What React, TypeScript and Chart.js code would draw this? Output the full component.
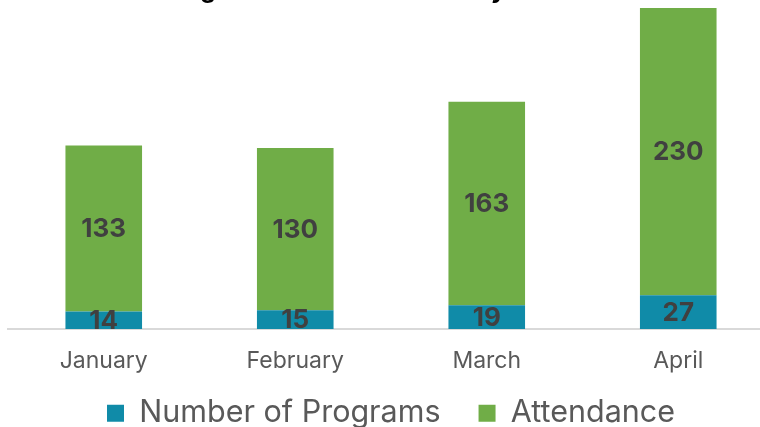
import React, { useEffect, useRef } from "react";
import { Chart, registerables } from "chart.js";

Chart.register(...registerables);

const titleText = "Programs and Attendance by Month";
const months = ["January", "February", "March", "April"];
const programs = [14, 15, 19, 27];
const attendance = [133, 130, 163, 230];
const yMax = 263.4;

const FONT = "Inter, 'Open Sans', sans-serif";

const titlePlugin = {
  id: "cutTitle",
  afterDraw(chart: any) {
    const ctx = chart.ctx;
    ctx.save();
    ctx.font = `bold 24px ${FONT}`;
    // fit font so that the g (in "Programs") and y (in "by") descenders are ~291px apart
    const gPos = ctx.measureText("Pro").width + ctx.measureText("g").width / 2;
    const yPos = ctx.measureText("Programs and Attendance b").width + ctx.measureText("y").width / 2;
    const size = (24 * 291) / (yPos - gPos);
    ctx.font = `bold ${size}px ${FONT}`;
    ctx.fillStyle = "#000000";
    ctx.textBaseline = "alphabetic";
    ctx.textAlign = "left";
    const pre = ctx.measureText("Pro").width + ctx.measureText("g").width / 2;
    ctx.fillText(titleText, 208 - pre, -2);
    ctx.restore();
  },
};

const valueLabels = {
  id: "valueLabels",
  afterDatasetsDraw(chart: any) {
    const ctx = chart.ctx;
    ctx.save();
    ctx.font = `bold 26px ${FONT}`;
    ctx.fillStyle = "#404040";
    ctx.textAlign = "center";
    ctx.textBaseline = "middle";
    chart.data.datasets.forEach((ds: any, di: number) => {
      const meta = chart.getDatasetMeta(di);
      meta.data.forEach((bar: any, i: number) => {
        const y = (bar.y + bar.base) / 2;
        ctx.fillText(String(ds.data[i]), bar.x, y + 1);
      });
    });
    ctx.restore();
  },
};

export default function App() {
  const ref = useRef<HTMLCanvasElement | null>(null);
  useEffect(() => {
    if (!ref.current) return;
    const chart = new Chart(ref.current, {
      type: "bar",
      data: {
        labels: months,
        datasets: [
          {
            label: "Number of Programs",
            data: programs,
            backgroundColor: "#108BA8",
            barPercentage: 0.4,
            categoryPercentage: 1,
          },
          {
            label: "Attendance",
            data: attendance,
            backgroundColor: "#70AD47",
            barPercentage: 0.4,
            categoryPercentage: 1,
          },
        ],
      },
      options: {
        animation: false,
        responsive: true,
        maintainAspectRatio: false,
        layout: { padding: { left: 8, right: 8, top: 0, bottom: 0 } },
        plugins: {
          title: { display: false },
          tooltip: { enabled: false },
          legend: {
            position: "bottom",
            maxHeight: 67,
            labels: {
              boxWidth: 17,
              boxHeight: 17,
              padding: 38,
              color: "#595959",
              font: { size: 30.5, family: FONT },
            },
          },
        },
        scales: {
          x: {
            stacked: true,
            grid: { display: false },
            border: { display: true, color: "#D9D9D9", width: 2 },
            ticks: {
              mirror: true,
              color: "#595959",
              font: { size: 23, family: FONT },
              padding: -46,
            },
            afterFit: (scale: any) => {
              scale.height = 31;
            },
          },
          y: {
            stacked: true,
            display: false,
            min: 0,
            max: yMax,
          },
        },
      },
      plugins: [titlePlugin, valueLabels],
    });
    return () => chart.destroy();
  }, []);
  return (
    <div
      style={{
        position: "absolute",
        left: 0,
        top: 0,
        width: 760,
        height: 427,
        overflow: "hidden",
        background: "#ffffff",
      }}
    >
      <div style={{ position: "absolute", left: 0, top: 0, width: 782, height: 427 }}>
        <canvas ref={ref} />
      </div>
    </div>
  );
}
